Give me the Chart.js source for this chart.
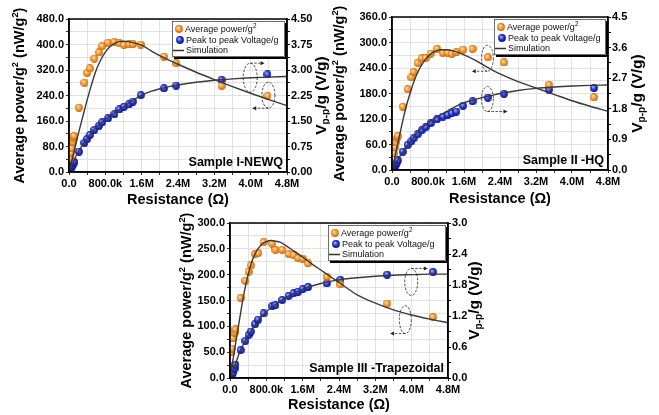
<!DOCTYPE html>
<html>
<head>
<meta charset="utf-8">
<script src="https://cdn.jsdelivr.net/npm/chart.js@4.4.0/dist/chart.umd.min.js"></script>
<style>
body { margin: 0; background: #fff; width: 659px; height: 415px; overflow: hidden; position: relative; }
canvas { position: absolute; }
</style>
</head>
<body>
<canvas id="c1" width="330" height="210" style="left:0;top:0"></canvas>
<canvas id="c2" width="329" height="210" style="left:330px;top:0"></canvas>
<canvas id="c3" width="330" height="210" style="left:160px;top:205px"></canvas>
<script>
// resistance in MOhm, power in nW/g^2, voltage in V/g

// Sample I - NEWQ
var r1 = [0.02, 0.04, 0.06, 0.09, 0.10, 0.11, 0.22, 0.34, 0.40, 0.46, 0.56, 0.66, 0.73, 0.86, 1.00, 1.11, 1.21, 1.32, 1.41, 1.58, 2.09, 2.36, 3.36, 4.37];
var power1 = [43, 59, 74, 94, 106, 113, 202, 280, 311, 325, 356, 375, 395, 406, 408, 404, 399, 401, 401, 400, 362, 341, 270, 239];
var volt1 = [0.05, 0.11, 0.16, 0.22, 0.27, 0.30, 0.60, 0.86, 0.97, 1.09, 1.24, 1.36, 1.46, 1.58, 1.70, 1.84, 1.92, 1.99, 2.07, 2.26, 2.46, 2.54, 2.71, 2.87];
var simR1 = [0, 0.1, 0.2, 0.3, 0.46, 0.6, 0.7, 0.8, 0.9, 1.0, 1.1, 1.2, 1.3, 1.4, 1.6, 1.8, 2.0, 2.2, 2.4, 2.8, 3.2, 3.6, 4.0, 4.4, 4.8];
var simPower1 = [0, 58, 117, 172, 257, 320, 352, 376, 393, 403, 409, 410, 409, 406, 398, 381, 365, 351, 338, 313, 290, 268, 247, 227, 208];
var simVolt1 = [0, 0.32, 0.58, 0.80, 1.10, 1.32, 1.44, 1.55, 1.65, 1.74, 1.83, 1.92, 2.01, 2.10, 2.26, 2.37, 2.45, 2.51, 2.56, 2.64, 2.70, 2.74, 2.77, 2.79, 2.81];

// Sample II - HQ
var r2 = [0.045, 0.06, 0.08, 0.11, 0.13, 0.24, 0.35, 0.43, 0.48, 0.57, 0.66, 0.75, 0.86, 1.00, 1.13, 1.24, 1.33, 1.43, 1.58, 1.79, 2.13, 2.49, 3.49, 4.49];
var power2 = [39, 53, 65, 75, 80, 149, 190, 218, 231, 252, 263, 263, 274, 285, 276, 276, 273, 277, 283, 285, 265, 253, 200, 171];
var volt2 = [0.05, 0.10, 0.16, 0.22, 0.28, 0.54, 0.74, 0.84, 0.93, 1.05, 1.17, 1.26, 1.38, 1.49, 1.57, 1.62, 1.67, 1.72, 1.89, 2.02, 2.13, 2.24, 2.36, 2.41];
var simR2 = [0, 0.1, 0.2, 0.3, 0.4, 0.5, 0.6, 0.7, 0.8, 0.9, 1.0, 1.1, 1.2, 1.3, 1.4, 1.6, 1.8, 2.0, 2.2, 2.4, 2.8, 3.2, 3.6, 4.0, 4.4, 4.8];
var simPower2 = [0, 48, 97, 143, 180, 212, 236, 254, 267, 276, 281, 283, 283, 282, 279, 271, 261, 249, 237, 226, 208, 193, 178, 163, 150, 138];
var simVolt2 = [0, 0.24, 0.45, 0.64, 0.83, 1.00, 1.16, 1.28, 1.38, 1.48, 1.56, 1.64, 1.71, 1.79, 1.86, 1.98, 2.06, 2.13, 2.19, 2.25, 2.34, 2.40, 2.44, 2.47, 2.49, 2.50];

// Sample III - Trapezoidal
var r3 = [0.03, 0.044, 0.066, 0.10, 0.12, 0.235, 0.34, 0.41, 0.46, 0.55, 0.62, 0.74, 0.93, 1.00, 1.15, 1.29, 1.40, 1.50, 1.60, 1.72, 2.13, 2.43, 3.46, 4.47];
var power3 = [50, 57, 77, 88, 94, 155, 188, 206, 218, 240, 242, 263, 260, 248, 248, 240, 238, 232, 231, 222, 196, 181, 144, 118];
var volt3 = [0.03, 0.06, 0.10, 0.18, 0.26, 0.54, 0.72, 0.83, 0.90, 1.04, 1.13, 1.25, 1.39, 1.41, 1.51, 1.59, 1.64, 1.67, 1.72, 1.76, 1.83, 1.90, 2.00, 2.05];
var simR3 = [0, 0.1, 0.2, 0.3, 0.4, 0.5, 0.6, 0.7, 0.8, 0.9, 1.0, 1.1, 1.2, 1.4, 1.6, 1.8, 2.0, 2.2, 2.4, 2.8, 3.2, 3.6, 4.0, 4.4, 4.8];
var simPower3 = [0, 54, 108, 160, 200, 230, 248, 259, 264, 266, 265, 263, 258, 246, 234, 221, 209, 197, 185, 161, 145, 132, 122, 114, 107];
var simVolt3 = [0, 0.22, 0.47, 0.66, 0.82, 0.96, 1.08, 1.19, 1.28, 1.36, 1.42, 1.48, 1.54, 1.64, 1.72, 1.78, 1.83, 1.87, 1.90, 1.94, 1.97, 1.99, 2.00, 2.01, 2.01];

var FONT = "'Liberation Sans', Arial, sans-serif";
Chart.defaults.font.family = FONT;
Chart.defaults.color = '#000';

function makeBall(light, mid, dark) {
    var c = document.createElement('canvas');
    c.width = 8; c.height = 8;
    var g = c.getContext('2d');
    var grad = g.createRadialGradient(2.8, 2.6, 0.2, 4, 4, 4.1);
    grad.addColorStop(0, light);
    grad.addColorStop(0.55, mid);
    grad.addColorStop(1, dark);
    g.fillStyle = grad;
    g.beginPath();
    g.arc(4, 4, 3.9, 0, Math.PI * 2);
    g.fill();
    return c;
}
var orangeBall = makeBall('#ffe2b0', '#f59a30', '#c4620a');
var blueBall = makeBall('#b0baff', '#2434dc', '#0a1280');

function points(xs, ys) {
    var out = [];
    for (var i = 0; i < xs.length; i++) out.push({ x: xs[i], y: ys[i] });
    return out;
}

// draw text made of pieces, some of them raised or lowered
function drawRich(ctx, parts, size, weight, x, y, align) {
    var total = 0;
    parts.forEach(function(p) {
        ctx.font = weight + ' ' + (size * (p.s || 1)) + 'px ' + FONT;
        p.w = ctx.measureText(p.t).width;
        total += p.w;
    });
    var cx = align === 'center' ? x - total / 2 : (align === 'right' ? x - total : x);
    ctx.textBaseline = 'middle';
    ctx.textAlign = 'left';
    parts.forEach(function(p) {
        ctx.font = weight + ' ' + (size * (p.s || 1)) + 'px ' + FONT;
        ctx.fillText(p.t, cx, y + (p.dy || 0) * size);
        cx += p.w;
    });
}

function drawNote(ctx, chart, n) {
    var xs = chart.scales.x, ys = chart.scales.y;
    var cx = xs.getPixelForValue(n.x);
    var cy = ys.getPixelForValue(n.y);
    var tx = xs.getPixelForValue(n.toX);
    ctx.strokeStyle = '#222';
    ctx.fillStyle = '#222';
    ctx.lineWidth = 0.8;
    ctx.setLineDash([2.5, 1.5]);
    ctx.beginPath();
    ctx.ellipse(cx, cy, n.rx, n.ry, 0, 0, Math.PI * 2);
    ctx.stroke();
    var ay = n.side === 'top' ? cy - n.ry : cy + n.ry;
    ctx.beginPath();
    ctx.moveTo(cx, ay);
    ctx.lineTo(tx, ay);
    ctx.stroke();
    ctx.setLineDash([]);
    var dir = tx > cx ? 1 : -1;
    ctx.beginPath();
    ctx.moveTo(tx + dir * 3, ay);
    ctx.lineTo(tx - dir * 1, ay - 2);
    ctx.lineTo(tx - dir * 1, ay + 2);
    ctx.closePath();
    ctx.fill();
}

var decorPlugin = {
    id: 'decor',
    afterDraw: function(chart, args, opts) {
        var ctx = chart.ctx, a = chart.chartArea;
        ctx.save();

        // frame
        ctx.strokeStyle = '#000';
        ctx.lineWidth = 1.5;
        ctx.strokeRect(a.left, a.top, a.right - a.left, a.bottom - a.top);

        // dashed ellipses with arrows
        opts.notes.forEach(function(n) { drawNote(ctx, chart, n); });

        // legend box with shadow
        var bw = opts.legendWidth, bh = 36;
        var bx = a.right - bw - 2, by = a.top + 2;
        ctx.fillStyle = '#000';
        ctx.fillRect(bx + 2, by + 2, bw, bh);
        ctx.fillStyle = '#fff';
        ctx.fillRect(bx, by, bw, bh);
        ctx.strokeStyle = '#333';
        ctx.lineWidth = 0.7;
        ctx.strokeRect(bx + 0.5, by + 0.5, bw - 1, bh - 1);
        ctx.drawImage(orangeBall, bx + 3, by + 4);
        ctx.drawImage(blueBall, bx + 4, by + 15);
        ctx.strokeStyle = '#333';
        ctx.lineWidth = 1.5;
        ctx.beginPath();
        ctx.moveTo(bx + 1, by + 29.5);
        ctx.lineTo(bx + 12, by + 29.5);
        ctx.stroke();
        ctx.fillStyle = '#111';
        drawRich(ctx, [{ t: 'Average power/g' }, { t: '2', s: 0.7, dy: -0.35 }], 9, 'normal', bx + 13, by + 8.5, 'left');
        drawRich(ctx, [{ t: 'Peak to peak Voltage/g' }], 9, 'normal', bx + 14, by + 19.5, 'left');
        drawRich(ctx, [{ t: 'Simulation' }], 9, 'normal', bx + 14, by + 29.5, 'left');

        // sample name
        ctx.fillStyle = '#000';
        drawRich(ctx, [{ t: opts.sample }], 12.5, 'bold', a.right - 4, a.bottom - 9, 'right');

        // axis titles
        drawRich(ctx, [{ t: 'Resistance (\u03A9)' }], 14.5, 'bold', (a.left + a.right) / 2, a.bottom + opts.bottomTitle, 'center');

        ctx.save();
        ctx.translate(a.left - opts.leftTitle, (a.top + a.bottom) / 2);
        ctx.rotate(-Math.PI / 2);
        drawRich(ctx, [
            { t: 'Average power/g' }, { t: '2', s: 0.65, dy: -0.32 },
            { t: ' (nW/g' }, { t: '2', s: 0.65, dy: -0.32 }, { t: ')' }
        ], 14.5, 'bold', 0, 0, 'center');
        ctx.restore();

        ctx.save();
        ctx.translate(a.right + opts.rightTitle, (a.top + a.bottom) / 2);
        ctx.rotate(-Math.PI / 2);
        drawRich(ctx, [
            { t: 'V' }, { t: 'p-p', s: 0.65, dy: 0.3 }, { t: '/g (V/g)' }
        ], 15.5, 'bold', 0, 0, 'center');
        ctx.restore();

        ctx.restore();
    }
};

function resistanceLabel(value, index) {
    if (index % 2 !== 0) return '';
    if (value === 0) return '0.0';
    if (value < 1) return (value * 1000).toFixed(1) + 'k';
    return value.toFixed(1) + 'M';
}

function makeChart(id, set) {
    var ctx = document.getElementById(id).getContext('2d');
    var tickFont = { size: 11, weight: 'bold' };
    var config = {
        type: 'line',
        data: {
            datasets: [
                {
                    data: points(set.simR, set.simPower), yAxisID: 'y',
                    borderColor: '#3a3a3a', borderWidth: 1.4, pointRadius: 0,
                    cubicInterpolationMode: 'monotone', fill: false
                },
                {
                    data: points(set.simR, set.simVolt), yAxisID: 'y2',
                    borderColor: '#3a3a3a', borderWidth: 1.4, pointRadius: 0,
                    cubicInterpolationMode: 'monotone', fill: false
                },
                {
                    data: points(set.r, set.power), yAxisID: 'y', showLine: false,
                    pointStyle: orangeBall, pointRadius: 4
                },
                {
                    data: points(set.r, set.volt), yAxisID: 'y2', showLine: false,
                    pointStyle: blueBall, pointRadius: 4
                }
            ]
        },
        options: {
            responsive: false,
            animation: false,
            events: [],
            layout: { padding: set.padding },
            plugins: {
                legend: { display: false },
                tooltip: { enabled: false },
                decor: set.decor
            },
            scales: {
                x: {
                    type: 'linear', min: 0, max: 4.8,
                    border: { color: '#000', width: 1.5 },
                    grid: { color: '#dadada', lineWidth: 0.8, tickColor: '#000', tickLength: 3 },
                    ticks: { stepSize: 0.4, autoSkip: false, maxRotation: 0, padding: 2, font: tickFont, callback: resistanceLabel },
                    afterFit: function(scale) { scale.height = 18; }
                },
                y: {
                    type: 'linear', position: 'left', min: 0, max: set.yMax,
                    border: { color: '#000', width: 1.5 },
                    grid: { color: '#dadada', lineWidth: 0.8, tickColor: '#000', tickLength: 3 },
                    ticks: {
                        stepSize: set.yStep, autoSkip: false, padding: 2, font: tickFont,
                        callback: function(v, i) { return i % 2 === 0 ? v.toFixed(1) : ''; }
                    },
                    afterFit: function(scale) { scale.width = 40; }
                },
                y2: {
                    type: 'linear', position: 'right', min: 0, max: set.y2Max,
                    border: { color: '#000', width: 1.5 },
                    grid: { drawOnChartArea: false, tickColor: '#000', tickLength: 3 },
                    ticks: {
                        stepSize: set.y2Step, autoSkip: false, padding: 1, font: tickFont,
                        callback: function(v, i) { return i % 2 === 0 ? v.toFixed(set.y2Digits) : ''; }
                    },
                    afterFit: function(scale) { scale.width = 36; }
                }
            }
        },
        plugins: [decorPlugin]
    };
    return new Chart(ctx, config);
}

makeChart('c1', {
    r: r1, power: power1, volt: volt1, simR: simR1, simPower: simPower1, simVolt: simVolt1,
    yMax: 480, yStep: 40, y2Max: 4.5, y2Step: 0.375, y2Digits: 2,
    padding: { left: 29, right: 7, top: 19, bottom: 20 },
    decor: {
        sample: 'Sample I-NEWQ', legendWidth: 113,
        leftTitle: 49, rightTitle: 35, bottomTitle: 28,
        notes: [
            { x: 3.99, y: 296, rx: 7, ry: 14.5, side: 'top', toX: 4.24 },
            { x: 4.39, y: 241, rx: 6.5, ry: 13, side: 'bottom', toX: 4.1 }
        ]
    }
});

makeChart('c2', {
    r: r2, power: power2, volt: volt2, simR: simR2, simPower: simPower2, simVolt: simVolt2,
    yMax: 360, yStep: 30, y2Max: 4.5, y2Step: 0.45, y2Digits: 1,
    padding: { left: 22, right: 15, top: 17, bottom: 22 },
    decor: {
        sample: 'Sample II -HQ', legendWidth: 112,
        leftTitle: 52, rightTitle: 30, bottomTitle: 29,
        notes: [
            { x: 2.12, y: 263, rx: 6, ry: 13, side: 'bottom', toX: 1.84 },
            { x: 2.12, y: 167, rx: 6, ry: 12.5, side: 'bottom', toX: 2.5 }
        ]
    }
});

makeChart('c3', {
    r: r3, power: power3, volt: volt3, simR: simR3, simPower: simPower3, simVolt: simVolt3,
    yMax: 300, yStep: 25, y2Max: 3, y2Step: 0.3, y2Digits: 1,
    padding: { left: 30, right: 6, top: 18, bottom: 19 },
    decor: {
        sample: 'Sample III -Trapezoidal', legendWidth: 118,
        leftTitle: 43, rightTitle: 27, bottomTitle: 27,
        notes: [
            { x: 3.99, y: 186, rx: 6.5, ry: 13.5, side: 'top', toX: 4.29 },
            { x: 3.86, y: 113, rx: 6, ry: 14, side: 'bottom', toX: 3.59 }
        ]
    }
});
</script>
</body>
</html>
